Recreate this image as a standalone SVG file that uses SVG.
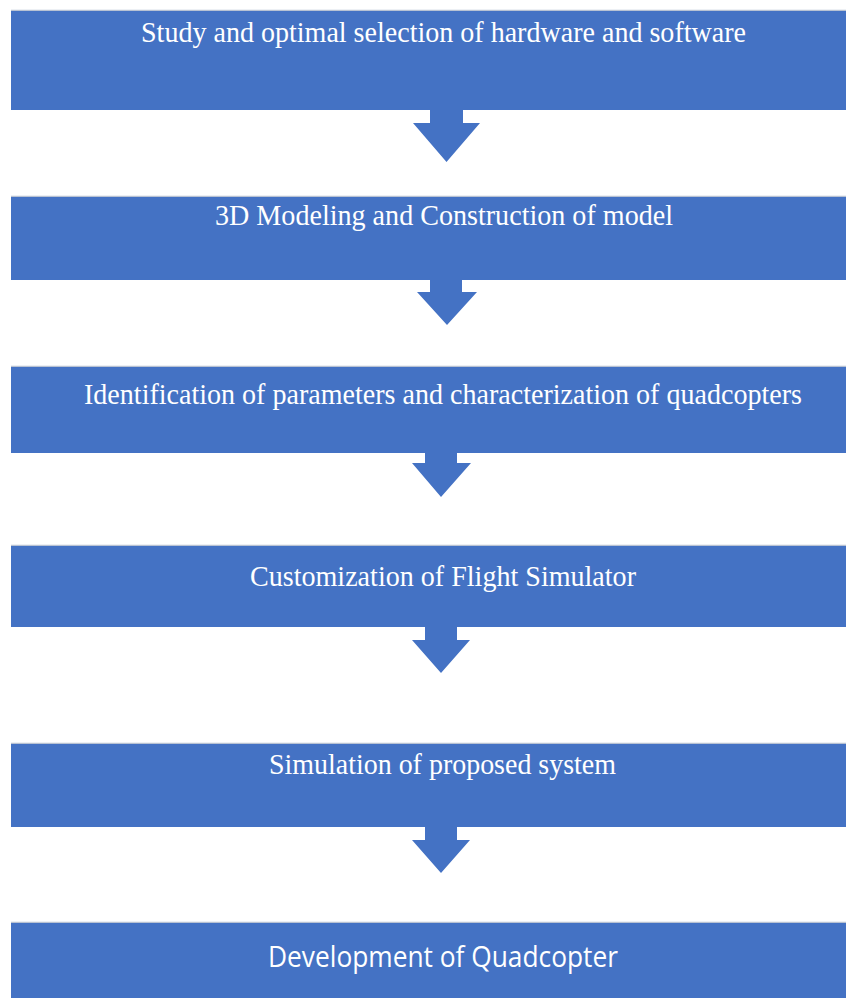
<svg xmlns="http://www.w3.org/2000/svg" width="846" height="998" viewBox="0 0 846 998">
<style>
.box{fill:#4472C4}
.edge{stroke:#B8C2D3;stroke-width:1.5}
.t{fill:#FFFFFF;font-family:"Liberation Serif","Times New Roman",serif;font-size:29px}
.s{fill:#FFFFFF;font-family:"Open Sans","Liberation Sans",sans-serif;font-size:29px}
.arr{fill:#4472C4}
</style>
<rect width="846" height="998" fill="#FFFFFF"/>
<g id="connectors">
<polygon class="arr" points="430,110 463,110 463,123 480,123 446.5,162 413,123 430,123"/>
<polygon class="arr" points="430,280 462,280 462,292 477,292 447,325 417,292 430,292"/>
<polygon class="arr" points="425,453 457,453 457,463 471,463 441,497 412,463 425,463"/>
<polygon class="arr" points="425,627 457,627 457,640 470,640 441,673 412,640 425,640"/>
<polygon class="arr" points="425,827 457,827 457,840 470,840 441,873 412,840 425,840"/>
</g>
<g id="node1">
<line class="edge" x1="11" y1="10.5" x2="846" y2="10.5"/>
<rect class="box" x="11" y="11" width="835" height="99"/>
<text class="t" x="141" y="42" textLength="605" lengthAdjust="spacingAndGlyphs">Study and optimal selection of hardware and software</text>
</g>
<g id="node2">
<line class="edge" x1="11" y1="196.5" x2="846" y2="196.5"/>
<rect class="box" x="11" y="197" width="835" height="83"/>
<text class="t" x="215" y="225" textLength="458" lengthAdjust="spacingAndGlyphs">3D Modeling and Construction of model</text>
</g>
<g id="node3">
<line class="edge" x1="11" y1="366.5" x2="846" y2="366.5"/>
<rect class="box" x="11" y="367" width="835" height="86"/>
<text class="t" x="84" y="404" textLength="718" lengthAdjust="spacingAndGlyphs">Identification of parameters and characterization of quadcopters</text>
</g>
<g id="node4">
<line class="edge" x1="11" y1="545.5" x2="846" y2="545.5"/>
<rect class="box" x="11" y="546" width="835" height="81"/>
<text class="t" x="250" y="586" textLength="386" lengthAdjust="spacingAndGlyphs">Customization of Flight Simulator</text>
</g>
<g id="node5">
<line class="edge" x1="11" y1="743.5" x2="846" y2="743.5"/>
<rect class="box" x="11" y="744" width="835" height="83"/>
<text class="t" x="269" y="774" textLength="347" lengthAdjust="spacingAndGlyphs">Simulation of proposed system</text>
</g>
<g id="node6">
<line class="edge" x1="11" y1="922.5" x2="846" y2="922.5"/>
<rect class="box" x="11" y="923" width="835" height="75"/>
<text class="s" x="268" y="967" textLength="350" lengthAdjust="spacingAndGlyphs">Development of Quadcopter</text>
</g>
</svg>
